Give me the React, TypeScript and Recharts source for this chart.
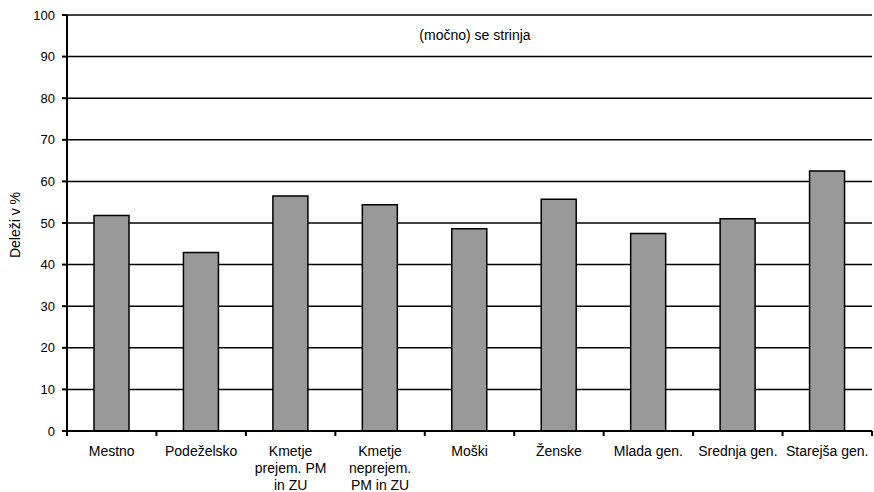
import type { FC } from 'react';
import { BarChart, Bar, XAxis, YAxis, CartesianGrid } from 'recharts';

const categories = [
  'Mestno',
  'Podeželsko',
  'Kmetje prejem. PM in ZU',
  'Kmetje neprejem. PM in ZU',
  'Moški',
  'Ženske',
  'Mlada gen.',
  'Srednja gen.',
  'Starejša gen.',
];

// tick labels, wrapped the way the reference wraps them
const tickLines = [
  ['Mestno'],
  ['Podeželsko'],
  ['Kmetje', 'prejem. PM', 'in ZU'],
  ['Kmetje', 'neprejem.', 'PM in ZU'],
  ['Moški'],
  ['Ženske'],
  ['Mlada gen.'],
  ['Srednja gen.'],
  ['Starejša gen.'],
];

const agreeShares = [51.8, 42.9, 56.5, 54.4, 48.6, 55.7, 47.5, 51.0, 62.5];

const yTicks = [0, 10, 20, 30, 40, 50, 60, 70, 80, 90, 100];

const FONT = '"Liberation Sans", Arial, sans-serif';

const data = categories.map((name, i) => ({ name, value: agreeShares[i] }));

const CategoryTick: FC<any> = (props) => {
  const { x, y, payload, index } = props;
  const i = typeof index === 'number' ? index : payload?.index ?? 0;
  const half = payload?.offset || 44.7;
  const lines = tickLines[i] ?? [String(payload?.value ?? '')];
  return (
    <g>
      {/* category boundary ticks */}
      <line x1={x - half} x2={x - half} y1={y} y2={y + 5} stroke="#000" strokeWidth={2} />
      {i === categories.length - 1 && (
        <line x1={x + half} x2={x + half} y1={y} y2={y + 5} stroke="#000" strokeWidth={2} />
      )}
      <text x={x} y={y} textAnchor="middle" fill="#000" fontSize={14} fontFamily={FONT}>
        {lines.map((l, k) => (
          <tspan key={k} x={x} dy={k === 0 ? 24.5 : 17}>
            {l}
          </tspan>
        ))}
      </text>
    </g>
  );
};

const App: FC = () => {
  return (
    <div style={{ position: 'absolute', left: 0, top: 0, width: 874, height: 492, background: '#fff' }}>
      <BarChart
        width={874}
        height={492}
        data={data}
        margin={{ top: 15, right: 2, bottom: 0, left: 0 }}
      >
        <CartesianGrid vertical={false} stroke="#000" strokeWidth={1.5} />
        <XAxis
          dataKey="name"
          interval={0}
          tickSize={0}
          tickMargin={0}
          tickLine={false}
          axisLine={{ stroke: '#000', strokeWidth: 2 }}
          tick={<CategoryTick />}
          height={61}
        />
        <YAxis
          domain={[0, 100]}
          ticks={yTicks}
          interval={0}
          width={67}
          tickSize={5}
          tickMargin={7}
          axisLine={{ stroke: '#000', strokeWidth: 2 }}
          tickLine={{ stroke: '#000', strokeWidth: 2 }}
          tick={{ fill: '#000', fontSize: 13, fontFamily: FONT }}
        />
        <Bar
          dataKey="value"
          fill="#999999"
          stroke="#000"
          strokeWidth={1.5}
          barSize={35}
          isAnimationActive={false}
        />
      </BarChart>
      <div
        style={{
          position: 'absolute',
          left: 475,
          top: 35,
          transform: 'translate(-50%, -50%)',
          fontFamily: FONT,
          fontSize: 14,
          color: '#000',
          whiteSpace: 'nowrap',
          background: '#fff',
        }}
      >
        (močno) se strinja
      </div>
      <div
        style={{
          position: 'absolute',
          left: 14.5,
          top: 225,
          transform: 'translate(-50%, -50%) rotate(-90deg)',
          fontFamily: FONT,
          fontSize: 14,
          color: '#000',
          whiteSpace: 'nowrap',
        }}
      >
        Deleži v %
      </div>
    </div>
  );
};

export default App;
